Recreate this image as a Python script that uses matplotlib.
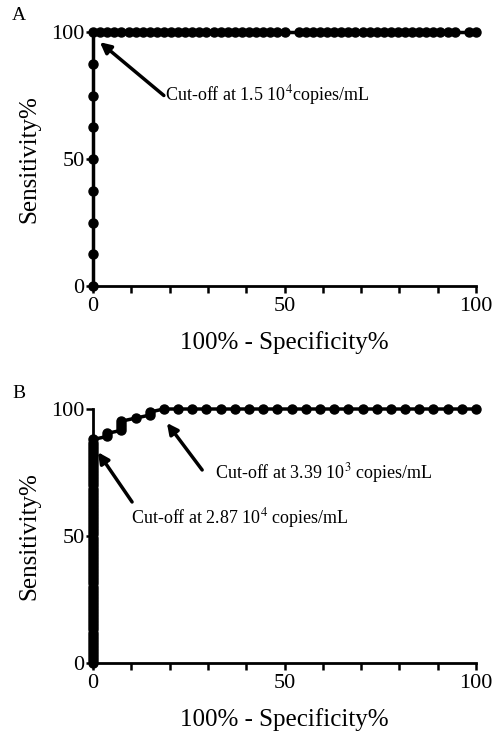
import matplotlib
matplotlib.use("Agg")
import matplotlib.pyplot as plt

# ---------------- data ----------------
# Panel A: vertical run at x=0, then horizontal run at 100
a_vert_sens = [0.0, 12.5, 25.0, 37.5, 50.0, 62.5, 75.0, 87.5, 100.0]
a_top_fpr = [0.0, 1.9, 3.7, 5.6, 7.4, 9.3, 11.1, 13.0, 14.8, 16.7, 18.5, 20.4, 22.2,
             24.1, 25.9, 27.8, 29.6, 31.5, 33.3, 35.2, 37.0, 38.9, 40.7, 42.6, 44.4,
             46.3, 48.1, 50.0, 53.7, 55.6, 57.4, 59.3, 61.1, 63.0, 64.8, 66.7, 68.5,
             70.4, 72.2, 74.1, 75.9, 77.8, 79.6, 81.5, 83.3, 85.2, 87.0, 88.9, 90.7,
             92.6, 94.4, 98.1, 100.0]

# Panel B: dense vertical run at x=0, staircase, then horizontal run at 100
b_vert_sens = [0.0, 1.2, 2.4, 3.6, 4.8, 6.0, 7.2, 8.4, 9.6, 10.8, 12.0, 13.3, 14.5,
               15.7, 16.9, 18.1, 19.3, 20.5, 21.7, 22.9, 24.1, 25.3, 26.5, 27.7, 28.9,
               30.1, 31.3, 32.5, 33.7, 34.9, 36.1, 37.3, 38.6, 39.8, 41.0, 42.2, 43.4,
               44.6, 45.8, 47.0, 48.2, 49.4, 50.6, 51.8, 53.0, 54.2, 55.4, 56.6, 57.8,
               59.0, 60.2, 61.4, 62.7, 63.9, 65.1, 66.3, 67.5, 68.7, 69.9, 71.1, 72.3,
               73.5, 74.7, 75.9, 77.1, 78.3, 79.5, 80.7, 81.9, 83.1, 84.3, 85.5, 86.7,
               88.0]
b_step_fpr = [3.7, 3.7, 7.4, 7.4, 7.4, 7.4, 11.1, 14.8, 14.8]
b_step_sens = [89.2, 90.4, 91.6, 92.8, 94.0, 95.2, 96.4, 97.6, 98.8]
b_top_fpr = [18.5, 22.2, 25.9, 29.6, 33.3, 37.0, 40.7, 44.4, 48.1, 51.9, 55.6, 59.3,
             63.0, 66.7, 70.4, 74.1, 77.8, 81.5, 85.2, 88.9, 92.6, 96.3, 100.0]

x_ticks = [0, 10, 20, 30, 40, 50, 60, 70, 80, 90, 100]
x_ticklabels = ["0", "", "", "", "", "50", "", "", "", "", "100"]
y_ticks = [0, 50, 100]
y_ticklabels = ["0", "50", "100"]

# ---------------- style ----------------
plt.rcParams['font.family'] = ['Liberation Serif', 'DejaVu Serif']
plt.rcParams['mathtext.fontset'] = 'stix'
W, H = 492, 733
fig = plt.figure(figsize=(W / 100, H / 100), dpi=100)


def make_axes(top_px):
    left = 93 / W
    width = (476 - 93) / W
    bottom = 1 - (top_px + 254) / H
    height = 254 / H
    ax = fig.add_axes([left, bottom, width, height])
    ax.set_xlim(0, 100)
    ax.set_ylim(0, 100)
    for s in ['top', 'right']:
        ax.spines[s].set_visible(False)
    for s in ['left', 'bottom']:
        ax.spines[s].set_linewidth(2.0)
    ax.set_xticks(x_ticks)
    ax.set_xticklabels(x_ticklabels, fontsize=16)
    ax.set_yticks(y_ticks)
    ax.set_yticklabels(y_ticklabels, fontsize=16)
    ax.tick_params(direction='out', length=5, width=1.8)
    ax.tick_params(axis='x', pad=3)
    ax.tick_params(axis='y', pad=1)
    ax.set_xlabel("100% - Specificity%", fontsize=18, labelpad=11)
    ax.set_ylabel("Sensitivity%", fontsize=18, labelpad=8)
    return ax


line_kw = dict(color='black', lw=2.5, marker='o', ms=6.5, clip_on=False, zorder=5)
arrow_kw = dict(arrowstyle='-|>', lw=2.5, color='black', mutation_scale=16,
                shrinkA=0, shrinkB=0)

# ---------------- panel A ----------------
axA = make_axes(32)
xa = [0.0] * len(a_vert_sens) + a_top_fpr[1:]
ya = a_vert_sens + [100.0] * (len(a_top_fpr) - 1)
axA.plot(xa, ya, **line_kw)
axA.annotate('', xy=(1.8, 96), xytext=(18.5, 75), arrowprops=arrow_kw)
axA.text(18.8, 75, r"Cut-off at 1.5 10$^{4}$copies/mL", fontsize=13,
         va='center', ha='left')
fig.text(12 / W, 1 - 16 / H, "A", fontsize=14, va='center', ha='left')

# ---------------- panel B ----------------
axB = make_axes(409)
xb = [0.0] * len(b_vert_sens) + b_step_fpr + b_top_fpr
yb = b_vert_sens + b_step_sens + [100.0] * len(b_top_fpr)
axB.plot(xb, yb, **line_kw)
axB.annotate('', xy=(19.3, 94.5), xytext=(28.5, 76), arrowprops=arrow_kw)
axB.annotate('', xy=(1.3, 83), xytext=(10.2, 63.4), arrowprops=arrow_kw)
axB.text(31.9, 74.8, r"Cut-off at 3.39 10$^{3}$ copies/mL", fontsize=13,
         va='center', ha='left')
axB.text(9.9, 57, r"Cut-off at 2.87 10$^{4}$ copies/mL", fontsize=13,
         va='center', ha='left')
fig.text(12 / W, 1 - 393 / H, "B", fontsize=14, va='center', ha='left')

fig.savefig("out.png", dpi=100)
